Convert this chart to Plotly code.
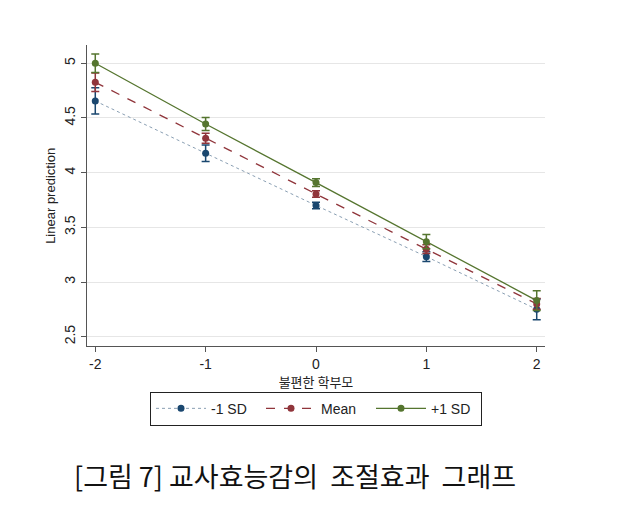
import plotly.graph_objects as go

x_vals = [-2, -1, 0, 1, 2]
series_names = ["-1 SD", "Mean", "+1 SD"]
y_low = [4.655, 4.177, 3.700, 3.232, 2.750]
y_mean = [4.826, 4.314, 3.805, 3.300, 2.800]
y_high = [5.000, 4.445, 3.909, 3.369, 2.830]
ci_low = [0.120, 0.075, 0.030, 0.045, 0.095]
ci_mean = [0.085, 0.045, 0.030, 0.040, 0.050]
ci_high = [0.085, 0.060, 0.035, 0.065, 0.090]
y_ticks = [2.5, 3, 3.5, 4, 4.5, 5]
y_tick_labels = ["2.5", "3", "3.5", "4", "4.5", "5"]

colors = ["#1a476f", "#90353b", "#55752f"]
line_colors = ["#8a9fb3", "#90353b", "#55752f"]
dashes = ["dot", "dash", "solid"]
widths = [1, 1.3, 1.3]

fig = go.Figure()
for name, ys, ci, c, lc, d, w in zip(series_names, [y_low, y_mean, y_high],
                                     [ci_low, ci_mean, ci_high], colors, line_colors, dashes, widths):
    fig.add_trace(go.Scatter(
        x=x_vals, y=ys, mode="lines+markers", name=name,
        line=dict(color=lc, dash=d, width=w),
        marker=dict(color=c, size=7),
        error_y=dict(type="data", array=ci, visible=True, color=c, thickness=1.5, width=4),
    ))

fig.update_layout(
    width=619, height=529,
    margin=dict(l=87, r=74, t=45, b=183),
    paper_bgcolor="white", plot_bgcolor="white",
    font=dict(family="Liberation Sans, Arial", size=13, color="#222"),
    showlegend=True,
    legend=dict(orientation="h", x=0.5, xanchor="center", y=-0.152, yanchor="top",
                bordercolor="#222", borderwidth=1, font=dict(size=14),
                entrywidth=45, itemwidth=50, tracegroupgap=0),
    xaxis=dict(range=[-2.075, 2.075], tickvals=x_vals, ticktext=[str(v) for v in x_vals],
               showgrid=False, zeroline=False, showline=True, linecolor="#555", linewidth=1,
               ticks="outside", ticklen=5, tickcolor="#555", tickfont=dict(size=14),
               title=dict(text="불편한 학부모", font=dict(family="Noto Sans CJK KR", size=13), standoff=4)),
    yaxis=dict(range=[2.415, 5.167], tickvals=y_ticks, ticktext=y_tick_labels, tickangle=-90,
               showgrid=True, gridcolor="#e6e6e6", zeroline=False, showline=True,
               linecolor="#555", linewidth=1, ticks="outside", ticklen=5, tickcolor="#555",
               tickfont=dict(size=14)),
    annotations=[
        dict(text="Linear prediction", xref="paper", yref="paper", x=-0.08, y=0.5,
             xanchor="center", yanchor="middle", textangle=-90, showarrow=False,
             font=dict(size=13)),
        dict(text="[그림 7] 교사효능감의  조절효과  그래프", xref="paper", yref="paper",
             x=0.455, y=-0.4286, xanchor="center", yanchor="middle", showarrow=False,
             font=dict(family="Noto Sans CJK KR", size=27, color="#111")),
    ],
)

fig.write_html("out.html")
